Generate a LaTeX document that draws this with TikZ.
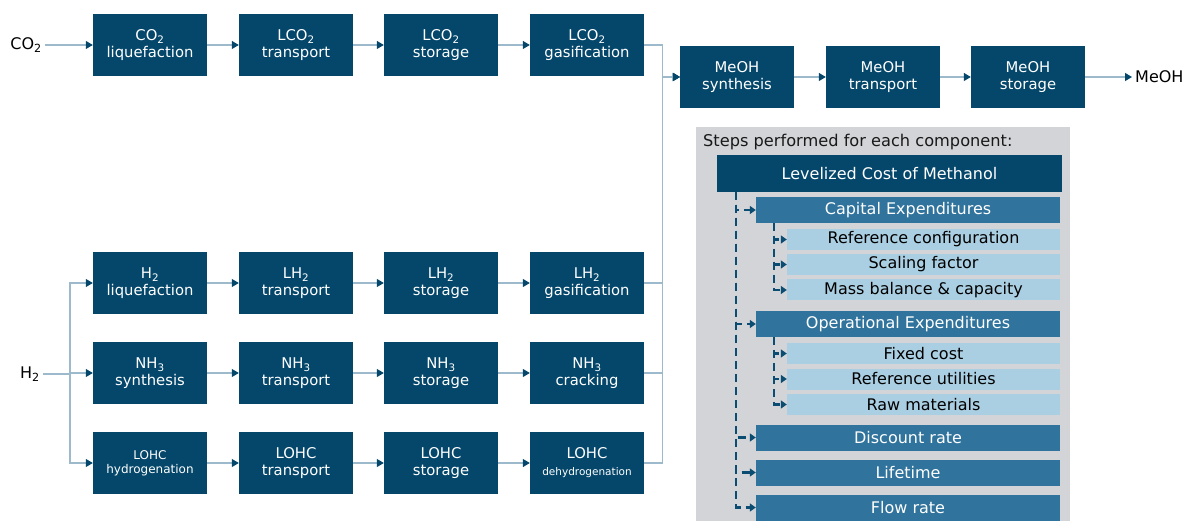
\documentclass[tikz,border=0pt]{standalone}
\usepackage{fontspec}
\setmainfont{DejaVu Sans}
\usetikzlibrary{arrows.meta}
\definecolor{boxdark}{HTML}{04476B}
\definecolor{boxmid}{HTML}{30739C}
\definecolor{boxlight}{HTML}{ABCFE2}
\definecolor{panelgray}{HTML}{D2D4D7}
\definecolor{linelight}{HTML}{9DB9CC}
\definecolor{dashblue}{HTML}{0B4C72}

\begin{document}
\begin{tikzpicture}[x=1pt,y=-1pt,
    flowbox/.style={fill=boxdark,text=white,minimum width=114pt,minimum height=62pt,inner sep=0pt,align=center,font=\fontsize{14.8}{17}\selectfont},
    inlabel/.style={inner sep=3pt,font=\fontsize{16}{18}\selectfont},
    flow/.style={draw=linelight,line width=1.2pt,-{Triangle[length=7pt,width=8pt,color=boxdark]}},
    topbox/.style={fill=boxdark,text=white,minimum width=345pt,minimum height=37pt,inner sep=0pt,font=\fontsize{16}{18}\selectfont},
    midbox/.style={fill=boxmid,text=white,minimum width=304pt,minimum height=26pt,inner sep=0pt,font=\fontsize{16}{18}\selectfont},
    subbox/.style={fill=boxlight,text=black,minimum width=273pt,minimum height=21pt,inner sep=0pt,font=\fontsize{16}{18}\selectfont},
    dashflow/.style={draw=dashblue,line width=2.7pt,dash pattern=on 8pt off 5pt,-{Triangle[length=6pt,width=8pt,color=dashblue]}}]
    \useasboundingbox (0,0) rectangle (1186,521);
    % CO2 line
    \node[inlabel,anchor=east] (co2) at (45,45) {CO\textsubscript{2}};
    \node[flowbox] (co2liq) at (150,45) {CO\textsubscript{2}\\liquefaction};
    \node[flowbox] (lco2tr) at (296,45) {LCO\textsubscript{2}\\transport};
    \node[flowbox] (lco2st) at (441,45) {LCO\textsubscript{2}\\storage};
    \node[flowbox] (lco2gas) at (587,45) {LCO\textsubscript{2}\\gasification};
    % H2 lines
    \node[inlabel,anchor=east] (h2) at (43,374) {H\textsubscript{2}};
    \coordinate (split) at (70,374);
    \node[flowbox] (h2liq) at (150,283) {H\textsubscript{2}\\liquefaction};
    \node[flowbox] (lh2tr) at (296,283) {LH\textsubscript{2}\\transport};
    \node[flowbox] (lh2st) at (441,283) {LH\textsubscript{2}\\storage};
    \node[flowbox] (lh2gas) at (587,283) {LH\textsubscript{2}\\gasification};
    \node[flowbox] (nh3syn) at (150,373) {NH\textsubscript{3}\\synthesis};
    \node[flowbox] (nh3tr) at (296,373) {NH\textsubscript{3}\\transport};
    \node[flowbox] (nh3st) at (441,373) {NH\textsubscript{3}\\storage};
    \node[flowbox] (nh3crk) at (587,373) {NH\textsubscript{3}\\cracking};
    \node[flowbox,font=\fontsize{12}{14}\selectfont] (lohchyd) at (150,463) {LOHC\\hydrogenation};
    \node[flowbox] (lohctr) at (296,463) {LOHC\\transport};
    \node[flowbox] (lohcst) at (441,463) {LOHC\\storage};
    \node[flowbox] (lohcdeh) at (587,463) {LOHC\\\fontsize{10.5}{13}\selectfont dehydrogenation};
    % MeOH line
    \node[flowbox] (meohsyn) at (737,77) {MeOH\\synthesis};
    \node[flowbox] (meohtr) at (883,77) {MeOH\\transport};
    \node[flowbox] (meohst) at (1028,77) {MeOH\\storage};
    \node[inlabel,anchor=west] (meoh) at (1132,77) {MeOH};
    % connectors
    \draw[flow] (co2) -- (co2liq);
    \draw[flow] (co2liq) -- (lco2tr);
    \draw[flow] (lco2tr) -- (lco2st);
    \draw[flow] (lco2st) -- (lco2gas);
    \draw[draw=linelight,line width=1.2pt] (h2) -- (split);
    \draw[flow] (split) |- (h2liq);
    \draw[flow] (split) |- (nh3syn);
    \draw[flow] (split) |- (lohchyd);
    \draw[flow] (h2liq) -- (lh2tr);
    \draw[flow] (lh2tr) -- (lh2st);
    \draw[flow] (lh2st) -- (lh2gas);
    \draw[flow] (nh3syn) -- (nh3tr);
    \draw[flow] (nh3tr) -- (nh3st);
    \draw[flow] (nh3st) -- (nh3crk);
    \draw[flow] (lohchyd) -- (lohctr);
    \draw[flow] (lohctr) -- (lohcst);
    \draw[flow] (lohcst) -- (lohcdeh);
    \draw[flow] (lco2gas.east) -- ++(18,0) |- (meohsyn);
    \draw[flow] (lh2gas.east) -- ++(18,0) |- (meohsyn);
    \draw[flow] (nh3crk.east) -- ++(18,0) |- (meohsyn);
    \draw[flow] (lohcdeh.east) -- ++(18,0) |- (meohsyn);
    \draw[flow] (meohsyn) -- (meohtr);
    \draw[flow] (meohtr) -- (meohst);
    \draw[flow] (meohst) -- (meoh);
    % steps panel
    \fill[panelgray] (696,127) rectangle (1070,521);
    \node[anchor=west,inner sep=0pt,text=black!90,font=\fontsize{16.2}{18}\selectfont] (steps) at (703,142) {Steps performed for each component:};
    \node[topbox] (lcom) at (889.5,173.5) {Levelized Cost of Methanol};
    \node[midbox] (capex) at (908,210) {Capital Expenditures};
    \node[subbox] (refcfg) at (923.5,239.5) {Reference configuration};
    \node[subbox] (scale) at (923.5,264.5) {Scaling factor};
    \node[subbox] (massbal) at (923.5,290) {Mass balance \& capacity};
    \node[midbox] (opex) at (908,324) {Operational Expenditures};
    \node[subbox] (fixcost) at (923.5,353.5) {Fixed cost};
    \node[subbox] (refutil) at (923.5,379) {Reference utilities};
    \node[subbox] (rawmat) at (923.5,404.5) {Raw materials};
    \node[midbox] (disc) at (908,437.5) {Discount rate};
    \node[midbox] (life) at (908,472.5) {Lifetime};
    \node[midbox] (flowr) at (908,507.5) {Flow rate};
    \coordinate (lvl) at (736,192);
    \coordinate (capl) at (774,223);
    \coordinate (opl) at (774,337);
    \draw[dashflow] (lvl) |- (capex);
    \draw[dashflow] (lvl) |- (opex);
    \draw[dashflow] (lvl) |- (disc);
    \draw[dashflow] (lvl) |- (life);
    \draw[dashflow] (lvl) |- (flowr);
    \draw[dashflow] (capl) |- (refcfg);
    \draw[dashflow] (capl) |- (scale);
    \draw[dashflow] (capl) |- (massbal);
    \draw[dashflow] (opl) |- (fixcost);
    \draw[dashflow] (opl) |- (refutil);
    \draw[dashflow] (opl) |- (rawmat);
  \end{tikzpicture}
\end{document}
